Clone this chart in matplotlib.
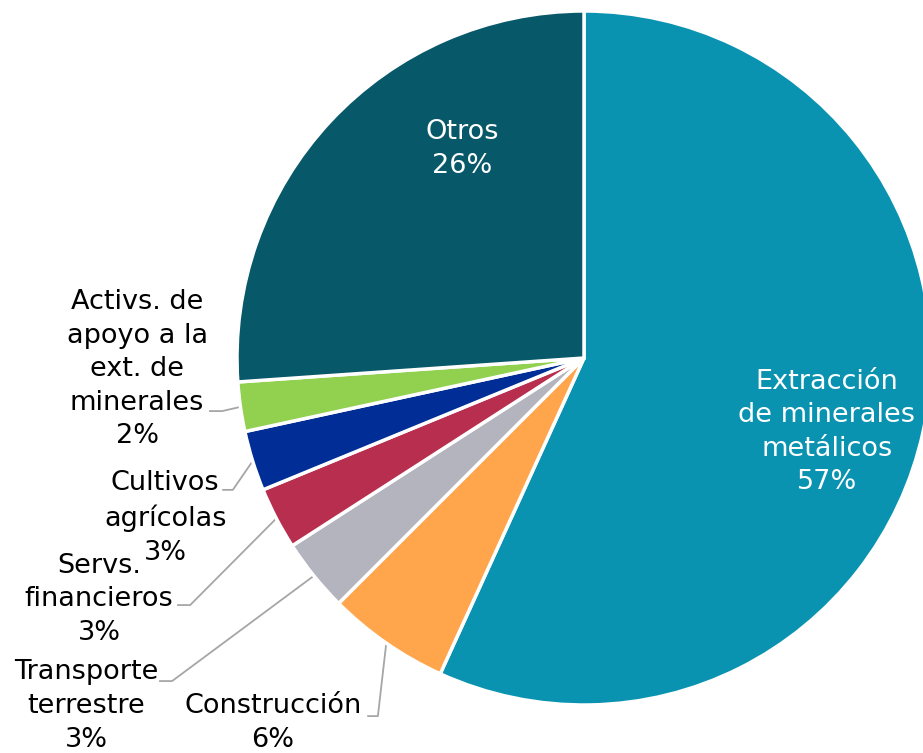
import numpy as np
import matplotlib
matplotlib.use("Agg")
from matplotlib import pyplot as plt

# Participación por actividad económica
labels = ['Extracción\nde minerales\nmetálicos', 'Construcción', 'Transporte\nterrestre',
          'Servs.\nfinancieros', 'Cultivos\nagrícolas', 'Activs. de\napoyo a la\next. de\nminerales',
          'Otros']
values = [56.8, 5.7, 3.4, 2.9, 2.8, 2.3, 26.1]
colors = ['#0A93B0', '#FFA64D', '#B3B4BE', '#B82E4E', '#002D96', '#92D050', '#075869']

# label centres (axes data units, radius = 1)
label_pos = [(0.700, -0.213), (-0.896, -1.052), (-1.435, -1.003), (-1.398, -0.695),
             (-1.207, -0.461), (-1.288, -0.032), (-0.352, 0.602)]
# horizontal leader stub next to each outside label: (x start, x end, y)
leaders = {1: (-0.622, -0.594, -1.032),
           2: (-1.222, -1.187, -0.931),
           3: (-1.170, -1.135, -0.712),
           4: (-1.040, -1.012, -0.380),
           5: (-1.078, -1.043, -0.153)}

plt.rcParams['font.family'] = ['DejaVu Sans']

fig = plt.figure(figsize=(9.23, 7.53), dpi=100)
ax = fig.add_axes([237 / 923, 48 / 753, 694 / 923, 694 / 753])

wedges, _ = ax.pie(values, colors=colors, startangle=90, counterclock=False,
                   radius=1.0, wedgeprops=dict(edgecolor='white', linewidth=2.5))
ax.set_xlim(-1, 1)
ax.set_ylim(-1, 1)
ax.set_aspect('equal')
ax.axis('off')

for i, (w, lab, v) in enumerate(zip(wedges, labels, values)):
    txt = lab + '\n' + '%d%%' % round(v)
    inside = i in (0, 6)
    x, y = label_pos[i]
    ax.text(x, y, txt, ha='center', va='center', fontsize=19.5, linespacing=1.38,
            color='white' if inside else 'black', clip_on=False)
    if i in leaders:
        ang = np.deg2rad((w.theta1 + w.theta2) / 2)
        ex, ey = np.cos(ang), np.sin(ang)
        x0, x1, ly = leaders[i]
        ax.plot([x0, x1, ex], [ly, ly, ey], color='#A6A6A6', lw=1.3,
                clip_on=False, zorder=0)

fig.savefig('out.png', dpi=100)
